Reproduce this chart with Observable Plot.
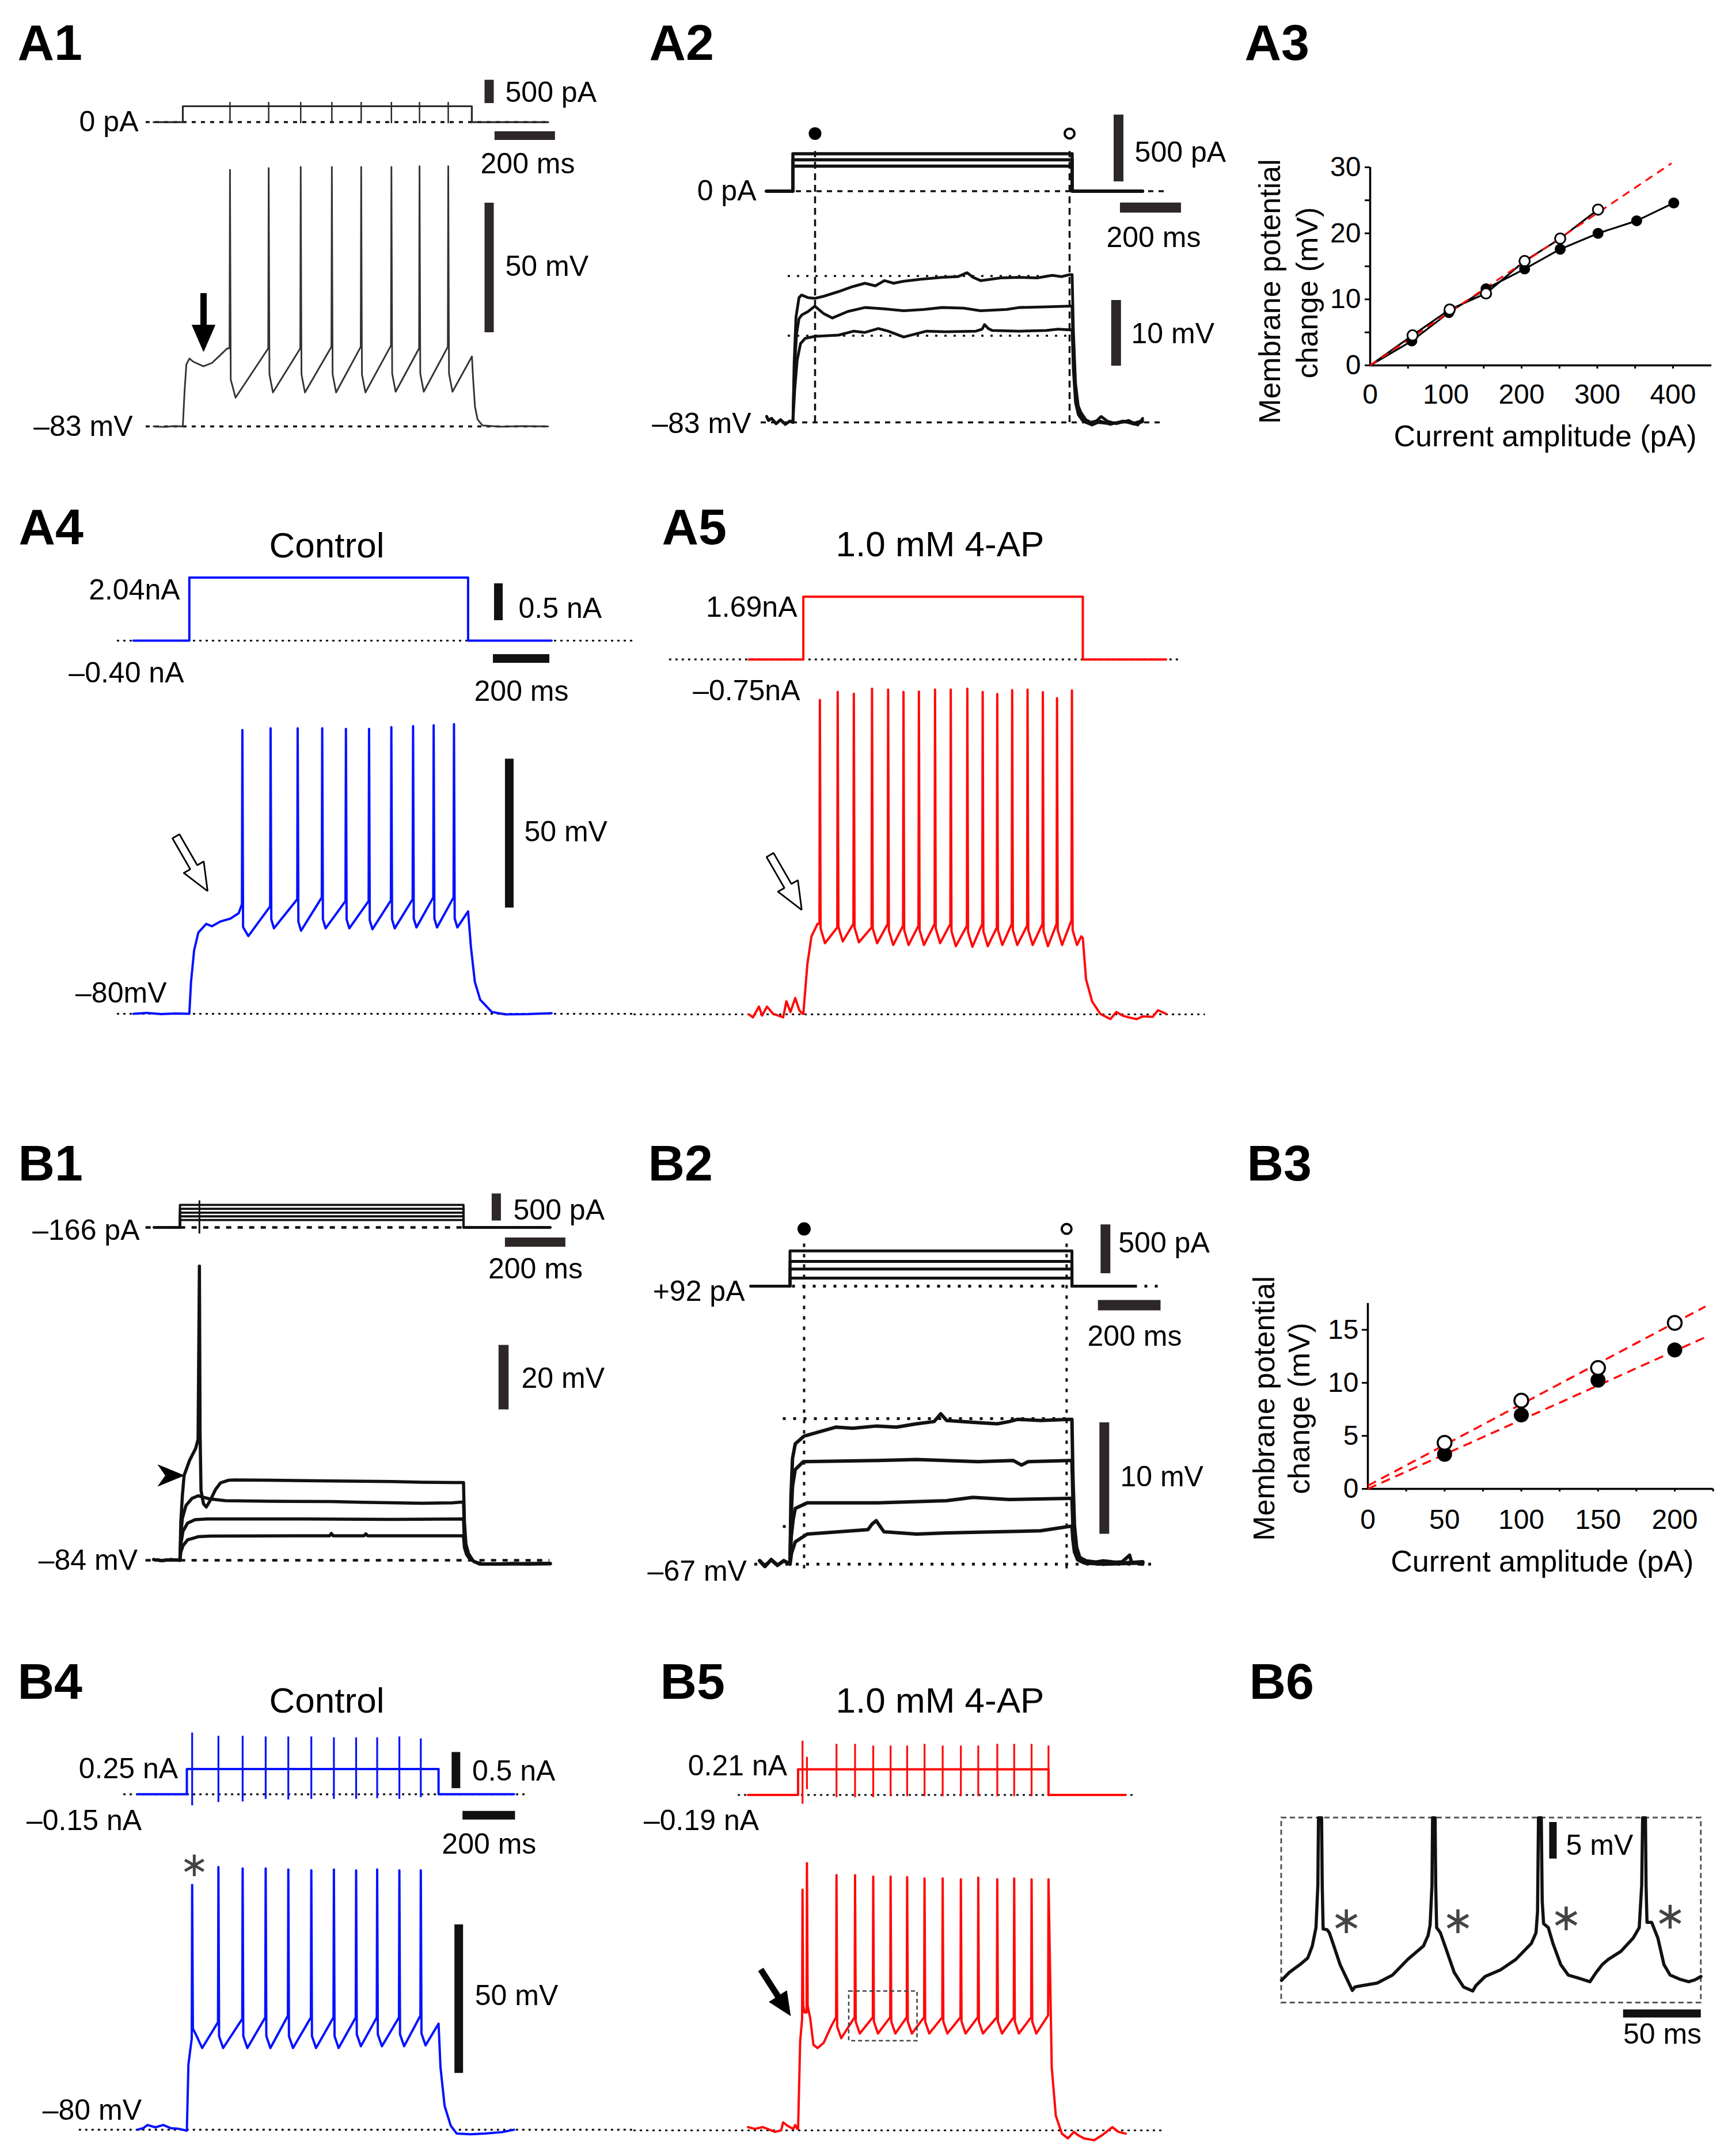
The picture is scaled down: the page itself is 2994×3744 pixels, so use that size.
<!DOCTYPE html>
<html><head><meta charset="utf-8">
<script src="https://cdn.jsdelivr.net/npm/d3@7"></script>
<script src="https://cdn.jsdelivr.net/npm/@observablehq/plot@0.6"></script>
<style>
html,body{margin:0;padding:0;background:#fff}
#page{position:relative;width:2994px;height:3744px;background:#fff;overflow:hidden}
#page svg{position:absolute;left:0;top:0}
</style></head><body><div id="page"></div><script>
// ================= DATA =================
// A1 (time ms from pulse onset, membrane potential mV, current pA)
const a1SpikeT = [156, 284, 390, 493, 590, 690, 783, 878];
const a1SpikePeak = [16.0, 16.7, 17.1, 17.1, 17.1, 17.1, 17.4, 17.4];
const a1SpikeThr = [-52.9, -52.9, -52.9, -52.3, -52.3, -51.8, -52.9, -52.3];
const a1SpikeTrough = [-71.9, -69.9, -69.9, -69.9, -69.9, -69.6, -69.6, -69.6];
const a1VPre = [[-97,-83],[-60,-83.2],[-30,-82.9],[0,-83],[5.6,-69.7],[11.7,-59.1],[21.9,-56.8],[34.3,-58],[68,-59.8],[96.5,-58.5],[121.9,-55.7],[146.9,-52.9]];
const a1VPost = [[956.4,-56],[960,-64.1],[966.3,-75.3],[975,-80.3],[991,-82.6],[1050,-83.1],[1120,-82.9],[1208,-83]];
const a1Current = [[-97,0],[0,0],[0,341],[956,341],[956,0],[1209,0]];
const a1ArtifactRange = [-30, 427];

// A2 (voltage change mV relative to -83 mV, current pA)
const a2Levels = [280, 235, 187];
const a2Pulse = [0, 915];
const a2Span = [-86, 1146];
const a2Pre = [[-86,0.9],[-80,0.3],[-70,0.6],[-55,-0.2],[-40,0.4],[-25,-0.3],[-10,0.2],[0,0]];
const a2VUpper = [[4,9],[10,16],[20,19],[28,19.4],[50,19],[72,18.9],[100,19.2],[148,19.9],[190,20.6],[236,21.2],[270,20.8],[300,21.6],[330,21.2],[363,21.5],[420,21.8],[489,22.1],[540,22.2],[571,22.8],[590,22.1],[615,21.6],[680,22],[742,22.1],[800,22],[850,22.4],[880,22.2],[906,22.5],[915,22.5],[919,14],[926,6],[935,2.5],[944,1.5],[960,0.4],[985,-0.2],[1010,0.9],[1030,0.2],[1060,-0.2],[1100,0.3],[1130,-0.4],[1146,0.6]];
const a2VMiddle = [[5,8],[12,13.5],[20,15.8],[30,16.4],[50,16.9],[72,17.7],[100,16.6],[129,15.9],[180,16.9],[236,17.5],[300,17.3],[363,17],[430,17.2],[489,17.5],[560,17.4],[615,17],[700,17.2],[742,17.5],[830,17.6],[906,17.7],[915,17.7],[919,10],[926,4],[935,1.5],[950,0.6],[975,0],[1000,0.3],[1040,-0.3],[1080,0.2],[1120,-0.1],[1146,0.3]];
const a2VLower = [[6,5],[14,9.5],[25,12],[40,12.8],[72,13.1],[150,13.3],[200,13.9],[236,13.7],[280,14.3],[312,13.9],[363,13.0],[438,13.9],[500,13.8],[600,13.9],[620,14.2],[628,14.9],[640,14.3],[653,14],[742,13.9],[830,14],[868,14.2],[906,14.1],[915,14.1],[919,8],[926,3],[935,1.2],[950,0.2],[980,-0.4],[1000,0],[1040,-0.2],[1090,0.1],[1120,-0.3],[1146,0.1]];
const a2RefLevels = [22.3, 13.2];
const a2MarkT = [72.6, 906.6];

// A3 (current amplitude pA vs membrane potential change mV)
const a3ClosedI = [55, 104, 153, 204, 251, 301, 352, 401];
const a3ClosedV = [3.7, 8.0, 11.6, 14.6, 17.6, 20.0, 21.9, 24.6];
const a3OpenI = [56, 105, 153, 204, 251, 301];
const a3OpenV = [4.55, 8.46, 10.9, 15.8, 19.2, 23.6];
const a3Fit = [[0, 0], [398, 30.6]];
const a3XLabels = [0, 100, 200, 300, 400];
const a3XTicks = [50, 100, 150, 200, 250, 300, 350, 400];
const a3YLabels = [0, 10, 20, 30];
const a3YMinor = [5, 15, 25];

// A4 control (mV, relative nA)
const a4SpikeT = [188, 288, 384, 471, 555, 637, 716, 793, 866, 938];
const a4SpikePeak = [15.3, 15.9, 15.9, 15.9, 15.7, 15.7, 16.3, 16.6, 16.9, 17.3];
const a4SpikeThr = [-43.2, -43.9, -41.5, -40.9, -42.1, -42.1, -41.9, -41.5, -40.9, -40.9];
const a4SpikeTrough = [-53.9, -51.3, -52.1, -51.3, -51.3, -51.6, -51.3, -51.0, -51.0, -51.0];
const a4VPre = [[-198,-80],[-150,-79.7],[-100,-80.1],[-50,-79.9],[0,-80],[6,-69.3],[17,-58.7],[32,-52.7],[60,-49.8],[80,-50.6],[110,-49],[146,-48],[175,-46.2]];
const a4VPost = [[988,-45.6],[998,-57.5],[1012,-69.3],[1031,-75.3],[1072,-79.4],[1120,-80.2],[1200,-80.1],[1284,-79.8]];
const a4Current = [[-198,0],[0,0],[0,0.855],[988,0.855],[988,0],[1284,0]];

// A5 4-AP
const a5SpikeT = [58.7, 121.8, 179, 243.5, 300.6, 355, 409.6, 466.8, 522.6, 581.3, 635.7, 687.3, 740.2, 794.7, 849, 899.2, 952];
const a5SpikePeak = [25.6, 28.3, 27.7, 29.4, 29.1, 28.3, 28.4, 29.1, 29.1, 29.4, 28.3, 27.6, 28.9, 29.1, 28.2, 26.2, 28.8];
const a5SpikeThr = [-49.6, -50.8, -49.6, -50.8, -49.6, -50.2, -50.2, -49.6, -49.6, -50.2, -49.6, -50.8, -49.6, -50.2, -49.6, -49.6, -48.4];
const a5SpikeTrough = [-56.1, -55.5, -55.8, -56.1, -56.7, -56.7, -56.7, -56.1, -57.1, -57.3, -57.1, -56.7, -56.7, -56.7, -57.1, -56.7, -56.7];
const a5VPre = [[-193,-80],[-178.8,-81],[-157.3,-77.4],[-145.9,-80.4],[-128.8,-77.4],[-107.3,-79.8],[-71.4,-81],[-60,-75.6],[-45.7,-79.2],[-28.6,-74.5],[-14.3,-78.6],[-2.9,-79.8],[0,-79.8],[14.3,-63.2],[28.8,-53.8],[50.2,-49.6]];
const a5VPost = [[985.1,-53.8],[990.6,-54.4],[1002.2,-68.3],[1023.7,-75.7],[1052.2,-79.8],[1088.2,-81.6],[1109.6,-79.2],[1131,-80.4],[1152.4,-81],[1181.2,-81.6],[1202.7,-80.7],[1238.4,-80.8],[1257.1,-78.6],[1285.7,-79.8]];
const a5Current = [[-193,0],[0,0],[0,0.852],[990.6,0.852],[990.6,0],[1285.7,0]];

// B1 (voltage change mV relative to -84 mV, current pA)
const b1Levels = [417, 345, 272, 205, 138];
const b1Pulse = [0, 938];
const b1Span = [-86.5, 1225.5];
const b1Artifact = {t: 64.4, lo: -117, hi: 495};
const b1Pre = [[-86.5,0.2],[-60,-0.1],[-30,0.2],[0,0]];
const b1V1 = [[3,12],[8,20],[13.7,26.3],[31.9,31],[52,34.7],[60,37.5],[64.4,91.2],[66.5,40],[69.7,21.7],[78,17.5],[87,16.5],[100,18.5],[118,22],[134,24],[160,24.8],[181,24.9],[300,24.8],[500,24.6],[700,24.4],[800,24.2],[900,24.1],[938,24.1],[941,12],[946,5],[955,2],[970,-0.2],[990,-1.1],[1050,-1.2],[1100,-1.0],[1150,-1.2],[1225,-1.0]];
const b1V2 = [[3,8],[8,13],[20,17],[40,19.2],[60,20],[80,19.5],[100,19],[150,18.5],[300,18.3],[500,18.2],[600,18.0],[800,17.7],[900,17.8],[938,18.1],[941,9],[946,4],[955,1.5],[970,-0.2],[990,-1.1],[1100,-1.1],[1225,-1.0]];
const b1V3 = [[3,5],[10,9],[25,11.5],[50,12.6],[90,12.8],[400,12.8],[700,12.7],[938,12.8],[941,6],[948,2.5],[958,0.8],[975,-0.5],[995,-1.1],[1225,-1.1]];
const b1V4 = [[3,2.5],[10,4.5],[25,6.3],[60,7.3],[100,7.5],[495,7.6],[501,8.3],[507,7.6],[609,7.6],[615,8.2],[621,7.6],[938,7.6],[941,4],[948,1.8],[958,0.5],[975,-0.5],[1000,-1.1],[1225,-1.0]];

// B2 (voltage change mV relative to -67 mV, current pA)
const b2Levels = [361, 254, 176, 83];
const b2Pulse = [0, 900];
const b2Span = [-125, 1100];
const b2Pre = [[-97,0.3],[-80,-0.2],[-60,0.4],[-40,-0.1],[-20,0.3],[0,0]];
const b2V1 = [[3,6],[8,9.5],[16.7,10.8],[45,11.5],[146,12.3],[200,12.2],[275,12.4],[340,12.3],[404,12.6],[460,12.8],[481,13.5],[500,12.9],[600,12.7],[662,12.6],[700,12.8],[726,13.0],[800,12.9],[894,13.0],[900,13.0],[903,8],[908,3.5],[915,1.5],[925,0.6],[945,0.3],[1000,0.1],[1060,0.2],[1084,0.8],[1090,0.2],[1126,0]];
const b2V2 = [[3,4],[8,7],[16.7,8.5],[42.5,9.2],[275,9.3],[404,9.4],[600,9.2],[713,9.3],[739,8.9],[760,9.2],[894,9.3],[900,9.3],[903,6],[908,2.5],[915,1.0],[930,0.4],[960,0.1],[1000,0.3],[1060,0.1],[1126,0.2]];
const b2V3 = [[4,2.5],[10,4],[16.7,5.0],[55,5.5],[275,5.5],[500,5.7],[584,6.0],[700,5.8],[894,5.9],[900,5.9],[903,3.5],[908,1.6],[918,0.6],[940,0.2],[1000,0.0],[1126,0.1]];
const b2V4 = [[5,1],[12,1.6],[16.7,2.0],[55,2.7],[200,3.0],[249,3.1],[262,3.6],[275,3.9],[300,2.9],[404,2.7],[500,2.8],[662,2.9],[800,3.0],[894,3.4],[900,3.4],[903,2.2],[908,1.1],[918,0.4],[940,0.1],[1000,0.0],[1126,0.2]];
const b2RefLevels = [13.07, 3.38];
const b2MarkT = [45, 883];

// B3
const b3I = [50, 100, 150, 200];
const b3ClosedV = [3.26, 6.97, 10.25, 13.1];
const b3OpenV = [4.35, 8.32, 11.4, 15.65];
const b3FitOpen = [[0, 0.3], [220, 17.2]];
const b3FitClosed = [[0, 0], [220, 14.3]];
const b3XLabels = [0, 50, 100, 150, 200];
const b3XTicks = [25, 50, 75, 100, 125, 150, 175, 200, 225];
const b3YLabels = [0, 5, 10, 15];

// B4 control
const b4SpikeT = [20.2, 120.2, 212.5, 300.2, 386.4, 474, 560, 644.7, 724.8, 809.4, 891];
const b4SpikePeak = [2.4, 8.4, 7.9, 7.9, 7.6, 7.3, 7.6, 7.3, 7.6, 7.3, 7.3];
const b4SpikeThr = [-49.2, -43.8, -42.7, -42.2, -41.6, -42.2, -42.2, -42.2, -42.2, -42.2, -41.6];
const b4SpikeTrough = [-52.5, -52.5, -52.5, -52.5, -52.5, -52.5, -52.5, -51.9, -51.9, -51.9, -51.6];
const b4VPre = [[-187.5,-80],[-165,-79.4],[-150,-78.4],[-120,-79.2],[-90,-78.4],[-60,-79.5],[-30,-79.7],[0,-80.3],[6,-58]];
const b4VPost = [[958.6,-44.3],[966,-59],[981.7,-72],[1004.8,-78.6],[1027.9,-81.3],[1080,-81.5],[1135.5,-81.3],[1200,-80.8],[1246,-80]];
const b4Current = [[-187.5,0],[0,0],[0,0.348],[958.6,0.348],[958.6,0],[1246,0]];
const b4ArtTop = [0.849, 0.804, 0.804, 0.795, 0.795, 0.795, 0.782, 0.782, 0.782, 0.795, 0.768];
const b4ArtBottom = [-0.157, -0.112, -0.103, -0.068, -0.076, -0.068, -0.068, -0.068, -0.058, -0.068, -0.045];

// B5 4-AP
const b5SpikeT = [16.9, 33.8, 146.3, 217, 286.2, 352.4, 415.4, 481.6, 550.7, 620, 686.2, 758.6, 823, 889.3, 953.7];
const b5SpikePeak = [1.0, 9.9, 5.9, 5.9, 5.4, 5.4, 5.2, 4.8, 4.8, 4.5, 5.1, 4.5, 4.8, 4.5, 4.5];
const b5SpikeThr = [-42.4, -40.3, -41.9, -41.9, -41.9, -41.9, -41.9, -41.9, -41.9, -41.9, -41.9, -41.9, -41.9, -41.9, -41.3];
const b5SpikeTrough = [-40.3, -52.3, -49.0, -47.4, -47.4, -47.4, -47.4, -47.4, -47.4, -47.4, -47.4, -47.4, -47.4, -47.4, -47.4];
const b5VPre = [[-190.8,-78.9],[-164.5,-79.5],[-133.8,-78.9],[-87.7,-80.5],[-64.7,-80],[-56.8,-77.3],[-41.4,-78.4],[-18.4,-79.5],[-10.7,-78.2],[-3,-79.5],[0,-79.5],[8,-50]];
const b5VPost = [[966,-58.8],[981.6,-75.1],[1004.6,-81.1],[1027.6,-82.7],[1050.7,-80.5],[1066,-81.6],[1089.3,-82.7],[1127.6,-83.3],[1158.3,-81.6],[1196.9,-78.9],[1220,-80.5],[1247.6,-81.1]];
const b5Current = [[-190.8,0],[0,0],[0,0.354],[953.7,0.354],[953.7,0],[1247.6,0]];
const b5ArtTop = [0.747, 0.523, 0.702, 0.702, 0.679, 0.679, 0.679, 0.702, 0.679, 0.679, 0.679, 0.702, 0.702, 0.702, 0.679];
const b5ArtBottom = [-0.125, 0.076, -0.036, -0.036, -0.036, -0.022, -0.022, -0.022, -0.022, -0.022, -0.022, -0.022, -0.022, -0.022, -0.022];
const b5Window = {t1: 194, t2: 454, v1: -49.9, v2: -33.2};

// B6 (expanded window; ms from window start, mV above window bottom)
const b6Trace = [[0,3.07],[5,4.16],[11.9,5.24],[16.9,6.14],[19.8,7.77],[22.2,10.3],[23.4,16.1],[23.8,25.3],[25.8,25.3],[26.2,16.1],[26.8,10.1],[29.4,10.0],[30.8,9.58],[33.7,7.77],[37.7,5.24],[41.7,3.43],[45.6,1.7],[47.2,2.17],[51.6,2.35],[61.5,2.71],[71.4,3.8],[81.3,5.96],[91.3,7.77],[94.3,9.22],[95.6,10.66],[96.8,16.1],[97.2,25.3],[98.8,25.3],[99.2,16.1],[99.8,10.3],[102.2,9.58],[105.2,7.77],[111.1,4.16],[117.1,2.17],[123,1.62],[125,2.35],[131,3.61],[140.9,4.52],[150.8,5.96],[160.7,8.13],[163.7,9.58],[164.7,12.47],[165.3,25.3],[167.1,25.3],[167.7,13.92],[168.6,10.84],[171.6,10.3],[174.6,8.13],[179.6,5.24],[184.5,3.8],[190.5,3.43],[198.4,2.89],[202.4,4.16],[206.3,5.24],[210.3,5.96],[218.3,7.05],[226.2,8.86],[230.1,10.3],[231.7,16.1],[232.3,25.3],[234.1,25.3],[234.5,16.1],[235.1,11.02],[238.1,11.02],[242.1,8.86],[246,5.24],[250,3.8],[256,3.25],[261.9,2.89],[265.9,3.14],[269.8,3.61]];
const b6Window = {t2: 269.9, v2: 25.3};
const b6AstT = [41.7, 113.5, 183.1, 250];
const b6AstV = [11.2, 11.2, 11.6, 11.8];

// ================= STYLE / LAYOUT =================
const W = 2994, H = 3744;
const FONT = "'Liberation Sans', Arial, Helvetica, sans-serif";
const RED = "#ff0a0a", BLUE = "#0512ff", BAR = "#2d2727", INK = "#111", LABEL = 50;
const page = document.getElementById("page");

function scales(t0px, kt, ref, refPx, k) {
  return {xd: [0, 1000], xr: [t0px, t0px + 1000 * kt], yd: [ref, ref + 1], yr: [refPx, refPx - k]};
}
function toPx(sc, x, y) {
  return [sc.xr[0] + (x - sc.xd[0]) * (sc.xr[1] - sc.xr[0]) / (sc.xd[1] - sc.xd[0]),
          sc.yr[0] + (y - sc.yd[0]) * (sc.yr[1] - sc.yr[0]) / (sc.yd[1] - sc.yd[0])];
}
function layer(sc, marks) {
  const svg = Plot.plot({
    width: W, height: H, margin: 0,
    x: {type: "linear", domain: sc.xd, range: sc.xr, axis: null},
    y: {type: "linear", domain: sc.yd, range: sc.yr, axis: null},
    style: {background: "transparent", fontFamily: FONT, fontSize: LABEL + "px", overflow: "visible"},
    marks
  });
  page.appendChild(svg);
}
function spikeTrain(pre, T, P, TH, TR, post, s, overrides = {}) {
  const pts = pre.slice();
  T.forEach((t, i) => {
    pts.push([t - s.rise, TH[i]], [t, P[i]]);
    if (overrides[i]) pts.push(...overrides[i]);
    else pts.push([t + s.fall, TR[i] + s.fallDv], [t + s.ahp, TR[i]]);
  });
  return pts.concat(post);
}
const stepTrace = (span, pulse, L) => [[span[0], 0], [pulse[0], 0], [pulse[0], L], [pulse[1], L], [pulse[1], 0], [span[1], 0]];
const ln = (pts, stroke, w, o = {}) => Plot.line(pts, {x: d => d[0], y: d => d[1], stroke, strokeWidth: w, ...o});
const hline = (x1, x2, y, dash, w, stroke = INK) => Plot.ruleY([{x1, x2, y}], {x1: "x1", x2: "x2", y: "y", stroke, strokeWidth: w, strokeDasharray: dash});
const vline = (x, y1, y2, dash, w, stroke = INK) => Plot.ruleX([{x, y1, y2}], {x: "x", y1: "y1", y2: "y2", stroke, strokeWidth: w, strokeDasharray: dash});
const vbar = (x, y1, y2, w, c = BAR) => Plot.ruleX([{x, y1, y2}], {x: "x", y1: "y1", y2: "y2", stroke: c, strokeWidth: w});
const hbar = (x1, x2, y, w, c = BAR) => Plot.ruleY([{x1, x2, y}], {x1: "x1", x2: "x2", y: "y", stroke: c, strokeWidth: w});
const tx = (x, y, s, anchor = "middle", o = {}) => Plot.text([{x, y, s}], {x: "x", y: "y", text: "s", textAnchor: anchor, lineAnchor: "middle", fontSize: o.size ?? LABEL, fill: o.fill ?? "black", fontFamily: o.font, fontWeight: o.weight});
const artifacts = (T, lo, hi, stroke, w) => Plot.ruleX(T.map((t, i) => ({x: t, y1: Array.isArray(lo) ? lo[i] : lo, y2: Array.isArray(hi) ? hi[i] : hi})), {x: "x", y1: "y1", y2: "y2", stroke, strokeWidth: w});

// ================= A1 =================
const A1 = {I: scales(317, 0.525, 0, 211.6, 0.081), V: scales(317, 0.525, -83, 740, 4.5)};
layer(A1.I, [
  hline(-122, 1209.5, 0, "7,9", 3.5),
  ln(a1Current, "#2a2a2a", 3.2),
  artifacts(a1SpikeT, a1ArtifactRange[0], a1ArtifactRange[1], "#2a2a2a", 2.5),
  vbar(1013.3, 402, 902, 16), hbar(1032, 1232, -289, 15),
  tx(-146.7, 0, "0 pA", "end"), tx(1066.7, 637, "500 pA", "start"), tx(1141, -906, "200 ms")
]);
const a1V = spikeTrain(a1VPre, a1SpikeT, a1SpikePeak, a1SpikeThr, a1SpikeTrough, a1VPost,
  {rise: 1.5, fall: 2.5, fallDv: 7, ahp: 14}, {0: [[158.5, -64.9], [174.5, -71.9]]});
layer(A1.V, [
  hline(-122, 1209.5, -83, "7,9", 3.5),
  ln(a1V, "#333", 2.9),
  vbar(1013.3, -46.8, 3.2, 16),
  tx(1066.7, -21.4, "50 mV", "start"), tx(-165.7, -83, "–83 mV", "end")
]);

// ================= A2 =================
const A2 = {I: scales(1376.5, 0.53, 0, 331.5, 0.232), V: scales(1376.5, 0.53, 0, 733, 11.4)};
layer(A2.I, [
  hline(-91.5, 1221.7, 0, "9,9", 3.5),
  ...a2Levels.map(L => ln(stepTrace(a2Span, a2Pulse, L), INK, 5.5)),
  vbar(1067, 71, 571, 17), hbar(1072.6, 1272.6, -123, 17.6),
  tx(-119.8, 0, "0 pA", "end"), tx(1120, 289, "500 pA", "start"), tx(1182, -351, "200 ms")
]);
layer(A2.V, [
  hline(-104.7, 1208.5, 0, "9,9", 3.5),
  ...a2RefLevels.map(v => hline(-16, 918, v, "4,12", 3.5)),
  ...a2MarkT.map(t => vline(t, 0, 41.3, "12,8", 3.5)),
  ln(a2Pre.concat(a2VUpper), INK, 4.8), ln(a2Pre.concat(a2VMiddle), INK, 4.8), ln(a2Pre.concat(a2VLower), INK, 4.8),
  Plot.dot([{x: a2MarkT[0], y: 44}], {x: "x", y: "y", r: 11, fill: "black"}),
  Plot.dot([{x: a2MarkT[1], y: 44}], {x: "x", y: "y", r: 8.5, fill: "white", stroke: "black", strokeWidth: 4}),
  vbar(1059, 8.6, 18.6, 17),
  tx(1108.5, 13.5, "10 mV", "start"), tx(-136.8, -0.2, "–83 mV", "end")
]);

// ================= A3 / B3 scatter plots =================
function xyPlot(o) {
  const svg = Plot.plot({
    width: o.w, height: o.h, marginLeft: o.ml, marginRight: o.mr, marginTop: o.mt, marginBottom: o.mb,
    x: {type: "linear", domain: o.xd, axis: null}, y: {type: "linear", domain: o.yd, axis: null},
    style: {background: "transparent", fontFamily: FONT, fontSize: "48px", left: o.left + "px", top: o.top + "px", overflow: "visible"},
    marks: o.marks
  });
  page.appendChild(svg);
}
const pts = (X, Y) => X.map((x, i) => ({x, y: Y[i]}));
const axisTitle = (dx, dy) => Plot.text(["Current amplitude (pA)"], {text: d => d, frameAnchor: "bottom", dx, dy, fontSize: 52, textAnchor: "middle", lineAnchor: "middle"});
const yTitle = (s, dx, dy) => Plot.text([s], {text: d => d, frameAnchor: "left", dx, dy, rotate: -90, fontSize: 52, textAnchor: "middle", lineAnchor: "middle"});
xyPlot({left: 2150, top: 200, w: 844, h: 620, ml: 229, mr: 22, mt: 90, mb: 186, xd: [0, 451], yd: [0, 30], marks: [
  Plot.axisX({ticks: a3XTicks, tickSize: 6, tickFormat: () => "", strokeWidth: 3, label: null}),
  Plot.axisX({ticks: a3XLabels, tickSize: 0, tickPadding: 32, label: null, fontSize: 48}),
  Plot.axisY({ticks: a3YMinor, tickSize: 9, tickFormat: () => "", strokeWidth: 3, label: null}),
  Plot.axisY({ticks: a3YLabels, tickSize: 9, tickPadding: 7, strokeWidth: 3, label: null, fontSize: 48}),
  Plot.ruleY([0], {strokeWidth: 3.5}), Plot.ruleX([0], {strokeWidth: 3.5}),
  Plot.line([{x: 0, y: 0}, ...pts(a3ClosedI, a3ClosedV)], {x: "x", y: "y", stroke: "black", strokeWidth: 3.2}),
  Plot.line([{x: 0, y: 0}, ...pts(a3OpenI, a3OpenV)], {x: "x", y: "y", stroke: "black", strokeWidth: 3.2}),
  ln(a3Fit, RED, 3.2, {strokeDasharray: "14,10", strokeLinecap: "butt"}),
  Plot.dot(pts(a3ClosedI, a3ClosedV), {x: "x", y: "y", r: 9.5, fill: "black"}),
  Plot.dot(pts(a3OpenI, a3OpenV), {x: "x", y: "y", r: 9, fill: "white", stroke: "black", strokeWidth: 3}),
  axisTitle(7.5, 123.7), yTitle("Membrane potential", -173, 43.6), yTitle("change (mV)", -108.5, 46)
]});
xyPlot({left: 2150, top: 2150, w: 844, h: 620, ml: 225, mr: 19.4, mt: 112.7, mb: 185, xd: [0, 225], yd: [0, 17.5], marks: [
  Plot.axisX({ticks: b3XTicks, tickSize: 5, tickFormat: () => "", strokeWidth: 3, label: null}),
  Plot.axisX({ticks: b3XLabels, tickSize: 0, tickPadding: 35, label: null, fontSize: 48}),
  Plot.axisY({ticks: b3YLabels, tickSize: 10, tickPadding: 6, strokeWidth: 3, label: null, fontSize: 48}),
  Plot.ruleY([0], {strokeWidth: 3.5}), Plot.ruleX([0], {strokeWidth: 3.5}),
  ln(b3FitOpen, RED, 3.5, {strokeDasharray: "16,10", strokeLinecap: "butt"}),
  ln(b3FitClosed, RED, 3.5, {strokeDasharray: "16,10", strokeLinecap: "butt"}),
  Plot.dot(pts(b3I, b3ClosedV), {x: "x", y: "y", r: 13, fill: "black"}),
  Plot.dot(pts(b3I, b3OpenV), {x: "x", y: "y", r: 12, fill: "white", stroke: "black", strokeWidth: 3.5}),
  axisTitle(2.9, 126.5), yTitle("Membrane potential", -179.5, 21.5), yTitle("change (mV)", -118, 21.5)
]});

// ================= A4 =================
const A4 = {I: scales(328.3, 0.49, 0, 1112, 128), V: scales(328.3, 0.49, -80, 1760, 5.17)};
layer(A4.I, [
  hline(-255.7, 1575, 0, "4,7", 3.2),
  ln(a4Current, BLUE, 4),
  vbar(1095.3, 0.273, 0.773, 15, "#111"), hbar(1077, 1277, -0.242, 15, "#111"),
  tx(-33, 0.6875, "2.04nA", "end"), tx(-19, -0.445, "–0.40 nA", "end"),
  tx(1166.7, 0.43, "0.5 nA", "start"), tx(1177, -0.6875, "200 ms")
]);
const a4V = spikeTrain(a4VPre, a4SpikeT, a4SpikePeak, a4SpikeThr, a4SpikeTrough, a4VPost,
  {rise: 1.5, fall: 2.5, fallDv: 3, ahp: 12}, {0: [[190.5, -50.9], [209, -53.9]]});
layer(A4.V, [
  hline(-255.7, 1575, -80, "4,7", 3.2),
  ln(a4V, BLUE, 4),
  vbar(1134, -44.4, 5.6, 15, "#111"),
  tx(1187, -19, "50 mV", "start"), tx(-80.2, -73.1, "–80mV", "end")
]);

// ================= A5 =================
const A5 = {I: scales(1394.6, 0.49, 0, 1144.7, 128), V: scales(1394.6, 0.49, -80, 1761, 5.17)};
layer(A5.I, [
  hline(-475, 1338.6, 0, "4,7", 3.2),
  ln(a5Current, RED, 4),
  tx(-21.6, 0.703, "1.69nA", "end"), tx(-11.4, -0.43, "–0.75nA", "end")
]);
const a5V = spikeTrain(a5VPre, a5SpikeT, a5SpikePeak, a5SpikeThr, a5SpikeTrough, a5VPost,
  {rise: 1.5, fall: 2.5, fallDv: 5, ahp: 18});
layer(A5.V, [
  hline(-601, 1424.5, -80, "4,7", 3.2),
  ln(a5V, RED, 4)
]);

// ================= B1 =================
const B1 = {I: scales(312, 0.525, 0, 2131, 0.094), V: scales(312, 0.525, 0, 2709, 5.6)};
layer(B1.I, [
  hline(-113, 1223, 0, "9,11", 4.5),
  ...b1Levels.map(L => ln(stepTrace(b1Span, b1Pulse, L), INK, 3.8)),
  vline(b1Artifact.t, b1Artifact.lo, b1Artifact.hi, null, 3),
  vbar(1046.5, 122, 622, 16), hbar(1076, 1276, -272, 16),
  tx(-133.3, -60, "–166 pA", "end"), tx(1102.9, 319, "500 pA", "start"), tx(1176, -766, "200 ms")
]);
layer(B1.V, [
  hline(-113, 1223, 0, "9,11", 4.5),
  ...[b1V4, b1V3, b1V2, b1V1].map(v => ln(b1Pre.concat(v), INK, 5.5)),
  vbar(1070.5, 46.7, 66.7, 17.5),
  tx(1129.5, 56.3, "20 mV", "start"), tx(-140, 0, "–84 mV", "end")
]);

// ================= B2 =================
const B2 = {I: scales(1371.5, 0.544, 0, 2233, 0.1694), V: scales(1371.5, 0.544, 0, 2715.7, 19.34)};
layer(B2.I, [
  hline(-125, 1177, 0, "5,13", 5),
  ...b2Levels.map(L => ln(stepTrace(b2Span, b2Pulse, L), INK, 5)),
  vbar(1007, 130, 630, 17), hbar(983.8, 1183.8, -194.8, 18),
  tx(-144.3, -55, "+92 pA", "end"), tx(1048.3, 438.6, "500 pA", "start"), tx(1100, -519, "200 ms")
]);
layer(B2.V, [
  hline(-113, 1177, 0, "5,13", 5),
  hline(-22, 900, b2RefLevels[0], "5,13", 5), hline(-22, 10, b2RefLevels[1], "5,13", 5),
  ...b2MarkT.map(t => vline(t, -0.4, 28.9, "6,12", 4)),
  ...[b2V1, b2V2, b2V3, b2V4].map(v => ln(b2Pre.concat(v), INK, 6)),
  Plot.dot([{x: b2MarkT[0], y: 30.1}], {x: "x", y: "y", r: 11.5, fill: "black"}),
  Plot.dot([{x: b2MarkT[1], y: 30.1}], {x: "x", y: "y", r: 8.5, fill: "white", stroke: "black", strokeWidth: 4}),
  vbar(1003.3, 2.7, 12.7, 17),
  tx(1054, 7.84, "10 mV", "start"), tx(-138, -0.68, "–67 mV", "end")
]);

// ================= B4 =================
const B4 = {I: scales(324, 0.456, 0, 3115.3, 125.6), V: scales(324, 0.456, -80, 3697.9, 5.16)};
layer(B4.I, [
  hline(-241, 1297, 0, "4,7", 3.2),
  ln(b4Current, BLUE, 4),
  artifacts(b4SpikeT, b4ArtBottom, b4ArtTop, BLUE, 3.2),
  vbar(1024.8, 0.08, 0.58, 15, "#111"), hbar(1050.9, 1250.9, -0.29, 15, "#111"),
  tx(-33.6, 0.345, "0.25 nA", "end"), tx(-172, -0.367, "–0.15 nA", "end"),
  tx(1086.4, 0.313, "0.5 nA", "start"), tx(1150.9, -0.693, "200 ms")
]);
const b4V = spikeTrain(b4VPre, b4SpikeT, b4SpikePeak, b4SpikeThr, b4SpikeTrough, b4VPost,
  {rise: 1.5, fall: 2.5, fallDv: 4, ahp: 18}, {0: [[23, -46], [32.5, -47.6], [58.3, -52.5]]});
layer(B4.V, [
  hline(-410.5, 1701.8, -80, "4,7", 3.2),
  ln(b4V, BLUE, 4),
  vbar(1035.5, -61, -11, 15, "#111"),
  tx(1097, -35, "50 mV", "start"), tx(-172, -73.5, "–80 mV", "end"),
  tx(27.9, 9, "∗", "middle", {size: 60, fill: "#444", font: "DejaVu Sans"})
]);

// ================= B5 =================
const B5 = {I: scales(1385.5, 0.456, 0, 3116.5, 125.6), V: scales(1385.5, 0.456, -80, 3699, 5.16)};
layer(B5.I, [
  hline(-229, 1281.6, 0, "4,7", 3.2),
  ln(b5Current, RED, 4),
  artifacts(b5SpikeT, b5ArtBottom, b5ArtTop, RED, 3.2),
  tx(-41.4, 0.398, "0.21 nA", "end"), tx(-149, -0.357, "–0.19 nA", "end")
]);
const b5V = spikeTrain(b5VPre, b5SpikeT, b5SpikePeak, b5SpikeThr, b5SpikeTrough, b5VPost,
  {rise: 1.5, fall: 2.5, fallDv: 4, ahp: 18},
  {0: [[19.5, -38], [24.5, -40.3]], 1: [[36.5, -38], [46.3, -42.4], [58.5, -51.2], [73.9, -52.3], [96.9, -50.6], [127.6, -44.7]], 14: []});
layer(B5.V, [
  hline(-626, 1397, -80, "4,7", 3.2),
  ln(b5V, RED, 4),
  Plot.rect([b5Window], {x1: "t1", x2: "t2", y1: "v1", y2: "v2", fill: "none", stroke: "#444", strokeWidth: 2.5, strokeDasharray: "7,5"})
]);

// ================= B6 =================
const B6 = {xd: [0, 100], xr: [2225, 2495], yd: [0, 10], yr: [3477.6, 3350.6]};
layer(B6, [
  Plot.rect([{x1: 0, x2: b6Window.t2, y1: 0, y2: b6Window.v2}], {x1: "x1", x2: "x2", y1: "y1", y2: "y2", fill: "none", stroke: "#555", strokeWidth: 3, strokeDasharray: "9,6"}),
  ln(b6Trace, INK, 5.5),
  ...b6AstT.map((t, i) => tx(t, b6AstV[i], "∗", "middle", {size: 66, fill: "#444", font: "DejaVu Sans"})),
  vbar(174.6, 19.7, 24.7, 13, "#111"), hbar(219.9, 269.9, -1.45, 14, "#111"),
  tx(183, 21.5, "5 mV", "start"), tx(245, -4.34, "50 ms")
]);

// ================= page annotations: panel letters, titles, arrows =================
function arrowPoly(tip, angleDeg, len, shaftW, headW, headL) {
  const a = angleDeg * Math.PI / 180, ux = Math.cos(a), uy = Math.sin(a), px = -uy, py = ux;
  const [tx0, ty0] = tip, bx = tx0 - ux * headL, by = ty0 - uy * headL, sx = tx0 - ux * len, sy = ty0 - uy * len;
  return [[bx + px * headW / 2, by + py * headW / 2], [tx0, ty0], [bx - px * headW / 2, by - py * headW / 2],
    [bx - px * shaftW / 2, by - py * shaftW / 2], [sx - px * shaftW / 2, sy - py * shaftW / 2],
    [sx + px * shaftW / 2, sy + py * shaftW / 2], [bx + px * shaftW / 2, by + py * shaftW / 2],
    [bx + px * headW / 2, by + py * headW / 2]];
}
function notchHead(tip, w, h, notch) {
  const [x, y] = tip;
  return [[x, y], [x - w, y - h / 2], [x - w + notch, y], [x - w, y + h / 2], [x, y]];
}
const panelLetters = ["A1", "A2", "A3", "A4", "A5", "B1", "B2", "B3", "B4", "B5", "B6"];
const letterPos = [[30, 75], [1127, 75], [2161, 75], [32, 916], [1149, 916], [31, 2021], [1125, 2021], [2165, 2021], [30, 2921], [1146, 2921], [2169, 2921]];
const titles = ["Control", "1.0 mM 4-AP", "Control", "1.0 mM 4-AP"];
const titlePos = [[567, 948], [1632, 946], [567, 2954], [1632, 2954]];
const PAGE = {xd: [0, W], xr: [0, W], yd: [0, H], yr: [0, H]};
const poly = (p, fill, stroke, w) => Plot.line(p, {x: d => d[0], y: d => d[1], fill, stroke, strokeWidth: w, strokeLinejoin: "miter"});
layer(PAGE, [
  ...panelLetters.map((s, i) => tx(letterPos[i][0], letterPos[i][1], s, "start", {size: 88, weight: "bold"})),
  ...titles.map((s, i) => tx(titlePos[i][0], titlePos[i][1], s, "middle", {size: 62})),
  poly(arrowPoly(toPx(A1.V, 68.6, -54.1), 90, 101, 10, 40, 46), "black", "black", 1),
  poly(arrowPoly(toPx(B5.V, -29.2, -41.4), 57.3, 95, 10, 36, 40), "black", "black", 1),
  poly(arrowPoly(toPx(A4.V, 64.7, -38.8), 60, 110, 14, 40, 48), "white", "black", 2.8),
  poly(arrowPoly(toPx(A5.V, -5.7, -44.9), 60, 110, 14, 40, 48), "white", "black", 2.8),
  poly(notchHead(toPx(B1.V, 13.3, 26.3), 45, 37, 13), "black", "black", 1)
]);
</script></body></html>
